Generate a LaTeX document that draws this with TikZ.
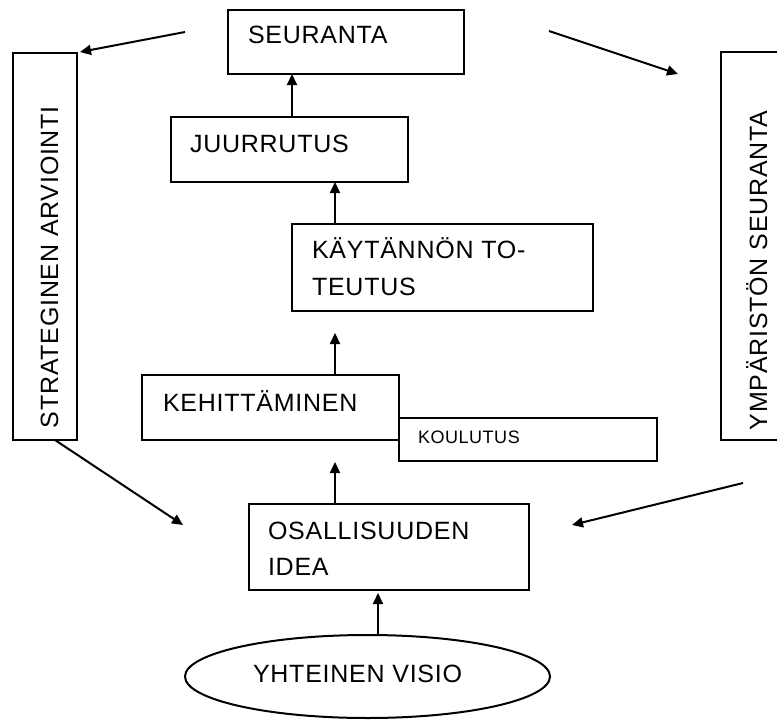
\documentclass[tikz,border=0pt]{standalone}
\usepackage{fontspec}
\setmainfont{Liberation Sans}[LetterSpace=3]
\usetikzlibrary{arrows.meta,shapes.geometric,calc}
\tikzset{
  box/.style={draw,line width=2pt,rectangle,inner sep=0pt,outer sep=0pt},
  txt/.style={anchor=base west,inner sep=0pt,outer sep=0pt,font=\fontsize{25}{30}\selectfont},
  smalltxt/.style={anchor=base west,inner sep=0pt,outer sep=0pt,font=\fontsize{18}{22}\selectfont},
  arr/.style={line width=2pt,-{Triangle[length=11pt,width=10pt]}},
}
\begin{document}
\begin{tikzpicture}[x=1pt,y=-1pt]
\useasboundingbox (0,0) rectangle (777,720);
\clip (0,0) rectangle (777,720);
% boxes
\node[box,minimum width=236pt,minimum height=64pt] (seur) at (346,42) {};
\node[box,minimum width=237pt,minimum height=65pt] (juur) at (289.5,149.5) {};
\node[box,minimum width=301pt,minimum height=87pt] (kayt) at (442.5,267.5) {};
\node[box,minimum width=257pt,minimum height=65pt] (keh) at (270.5,407.5) {};
\node[box,minimum width=258pt,minimum height=43pt] (koul) at (528,439.5) {};
\node[box,minimum width=280pt,minimum height=86pt] (osal) at (389,547) {};
\node[box,minimum width=64pt,minimum height=387pt] (strat) at (45,246.5) {};
\node[box,minimum width=80pt,minimum height=388pt] (ymp) at (761,246) {};
\node[draw,line width=2pt,ellipse,inner sep=0pt,outer sep=0pt,minimum width=365pt,minimum height=83pt] (vis) at (367.5,676.5) {};
% texts
\node[txt] (tseur) at (248,43) {SEURANTA};
\node[txt] (tjuur) at (190,152) {JUURRUTUS};
\node[txt] (tkayt1) at (312,258) {KÄYTÄNNÖN TO-};
\node[txt] (tkayt2) at (312,295) {TEUTUS};
\node[txt] (tkeh) at (163,411) {KEHITTÄMINEN};
\node[smalltxt] (tkoul) at (418,443) {KOULUTUS};
\node[txt] (tosal1) at (268,539) {OSALLISUUDEN};
\node[txt] (tosal2) at (268,575) {IDEA};
\node[txt] (tvis) at (253,682) {YHTEINEN VISIO};
\node[txt,rotate=90] (tstrat) at (58,428) {STRATEGINEN ARVIOINTI};
\node[txt,rotate=90] (tymp) at (767,430) {YMPÄRISTÖN SEURANTA};
% free ends
\coordinate (a6s) at (185,32);
\coordinate (a6e) at (80,52);
\coordinate (a7e) at (183,525);
\coordinate (a8s) at (549,31);
\coordinate (a8e) at (678,74);
\coordinate (a9s) at (743,483);
\coordinate (a9e) at (572,525);
\coordinate (a3e) at (335,333);
\coordinate (a4e) at (335,462);
% connectors
\draw[arr] (juur.north -| 292,0) -- (seur.south -| 292,0);
\draw[arr] (kayt.north -| 335,0) -- (juur.south -| 335,0);
\draw[arr] (keh.north -| a3e) -- (a3e);
\draw[arr] (osal.north -| a4e) -- (a4e);
\draw[arr] (vis.north -| 378,0) -- ($(osal.south -| 378,0)+(0,3)$);
\draw[arr] (a6s) -- (a6e);
\draw[arr] (strat.south -| 55,0) -- (a7e);
\draw[arr] (a8s) -- (a8e);
\draw[arr] (a9s) -- (a9e);
\end{tikzpicture}
\end{document}
